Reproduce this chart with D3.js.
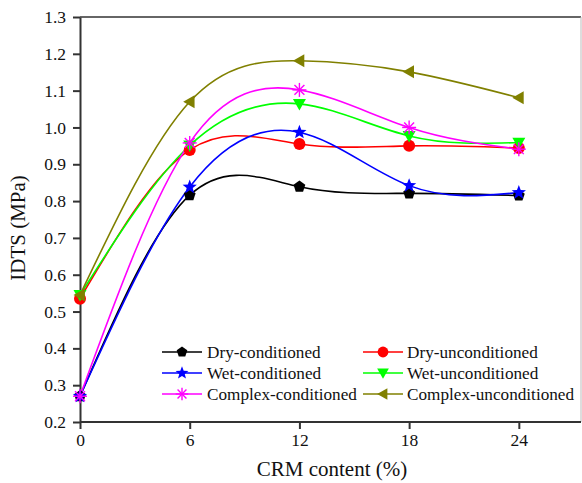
<!DOCTYPE html>
<html><head><meta charset="utf-8">
<script src="https://cdn.jsdelivr.net/npm/d3@7"></script>
<style>body{margin:0;background:#fff}svg{display:block}</style>
</head><body>
<svg id="c" width="582" height="483"></svg>
<script>
const xValues = [0, 6, 12, 18, 24];
const xTicks = [0, 6, 12, 18, 24];
const yTicks = [0.2,0.3,0.4,0.5,0.6,0.7,0.8,0.9,1.0,1.1,1.2,1.3];
const seriesNames = ["Dry-conditioned","Dry-unconditioned","Wet-conditioned","Wet-unconditioned","Complex-conditioned","Complex-unconditioned"];
const dryConditioned = [0.27, 0.816, 0.839, 0.821, 0.815];
const dryUnconditioned = [0.535, 0.939, 0.955, 0.950, 0.944];
const wetConditioned = [0.27, 0.838, 0.987, 0.842, 0.823];
const wetUnconditioned = [0.545, 0.951, 1.064, 0.977, 0.959];
const complexConditioned = [0.27, 0.958, 1.102, 1.000, 0.941];
const complexUnconditioned = [0.545, 1.070, 1.181, 1.151, 1.081];
const colors = ["#000000","#ff0000","#0000ff","#00ff00","#ff00ff","#808000"];
const markers = ["pentagon","circle","star","tridown","asterisk","trileft"];
const allValues = [dryConditioned, dryUnconditioned, wetConditioned, wetUnconditioned, complexConditioned, complexUnconditioned];

const svg = d3.select("#c");
const pL = 80, pR = 581, pT = 17, pB = 422;
const x = d3.scaleLinear().domain([0, 27.4]).range([pL, pR]);
const y = d3.scaleLinear().domain([0.2, 1.3]).range([pB, pT]);
const font = "'Liberation Serif','Times New Roman',serif";

// frame
svg.append("line").attr("x1",pL).attr("x2",pR).attr("y1",pT).attr("y2",pT).attr("stroke","#333").attr("stroke-width",1.5);
svg.append("line").attr("x1",pR).attr("x2",pR).attr("y1",pT).attr("y2",pB).attr("stroke","#bbb").attr("stroke-width",1);

const gx = svg.append("g").attr("transform",`translate(0,${pB})`)
  .call(d3.axisBottom(x).tickValues(xTicks).tickSize(7).tickSizeOuter(0).tickPadding(5));
const gy = svg.append("g").attr("transform",`translate(${pL},0)`)
  .call(d3.axisLeft(y).tickValues(yTicks).tickFormat(d3.format(".1f")).tickSize(7).tickSizeOuter(0).tickPadding(7));
[gx, gy].forEach(g => {
  g.select(".domain").attr("stroke","#333").attr("stroke-width",2);
  g.selectAll(".tick line").attr("stroke","#333").attr("stroke-width",2);
  g.selectAll(".tick text").attr("font-family",font).attr("font-size",17.5).attr("fill","#111");
});
gx.select(".domain").attr("d",`M${pL},0H${pR}`);

svg.append("text").attr("x",332).attr("y",476).attr("text-anchor","middle")
  .attr("font-family",font).attr("font-size",21).attr("fill","#111").text("CRM content (%)");
svg.append("text").attr("transform",`translate(25,228) rotate(-90)`).attr("text-anchor","middle")
  .attr("font-family",font).attr("font-size",21).attr("fill","#111").text("IDTS (MPa)");

function drawMarker(g, type, cx, cy, color, s) {
  s = s || 1;
  if (type === "circle") {
    g.append("circle").attr("cx",cx).attr("cy",cy).attr("r",6*s).attr("fill",color);
  } else if (type === "pentagon") {
    const pts = d3.range(5).map(i => { const a = -Math.PI/2 + i*2*Math.PI/5; return [cx+6.2*s*Math.cos(a), cy+6.2*s*Math.sin(a)]; });
    g.append("polygon").attr("points",pts.map(p=>p.join(",")).join(" ")).attr("fill",color);
  } else if (type === "star") {
    const pts = d3.range(10).map(i => { const a = -Math.PI/2 + i*Math.PI/5; const r = (i%2?3.2:7.5)*s; return [cx+r*Math.cos(a), cy+r*Math.sin(a)]; });
    g.append("polygon").attr("points",pts.map(p=>p.join(",")).join(" ")).attr("fill",color);
  } else if (type === "tridown") {
    const r = 6.5*s;
    g.append("polygon").attr("points",`${cx-r},${cy-r*0.75} ${cx+r},${cy-r*0.75} ${cx},${cy+r}`).attr("fill",color);
  } else if (type === "trileft") {
    const r = 6.5*s;
    g.append("polygon").attr("points",`${cx+r*0.75},${cy-r} ${cx+r*0.75},${cy+r} ${cx-r},${cy}`).attr("fill",color);
  } else if (type === "asterisk") {
    const r = 7*s;
    for (let i = 0; i < 4; i++) {
      const a = i*Math.PI/4;
      g.append("line").attr("x1",cx-r*Math.cos(a)).attr("y1",cy-r*Math.sin(a)).attr("x2",cx+r*Math.cos(a)).attr("y2",cy+r*Math.sin(a))
        .attr("stroke",color).attr("stroke-width",1.4);
    }
  }
}

const line = d3.line().x((d,i)=>x(xValues[i])).y(d=>y(d)).curve(d3.curveNatural);
const plot = svg.append("g");
allValues.forEach((vals, k) => {
  plot.append("path").attr("d", line(vals)).attr("fill","none").attr("stroke",colors[k]).attr("stroke-width",1.6);
});
allValues.forEach((vals, k) => {
  vals.forEach((v,i) => drawMarker(plot, markers[k], x(xValues[i]), y(v), colors[k]));
});

// legend
const legCols = [{lx1:162, lx2:202, tx:207}, {lx1:363, lx2:403, tx:407}];
const legRows = [352, 373, 394];
seriesNames.forEach((name, k) => {
  const c = legCols[k%2], ry = legRows[Math.floor(k/2)];
  const g = svg.append("g");
  g.append("line").attr("x1",c.lx1).attr("x2",c.lx2).attr("y1",ry).attr("y2",ry).attr("stroke",colors[k]).attr("stroke-width",1.6);
  drawMarker(g, markers[k], (c.lx1+c.lx2)/2, ry, colors[k], 0.9);
  g.append("text").attr("x",c.tx).attr("y",ry+5.5).attr("font-family",font).attr("font-size",17.2).attr("fill","#111").text(name);
});
</script>
</body></html>
